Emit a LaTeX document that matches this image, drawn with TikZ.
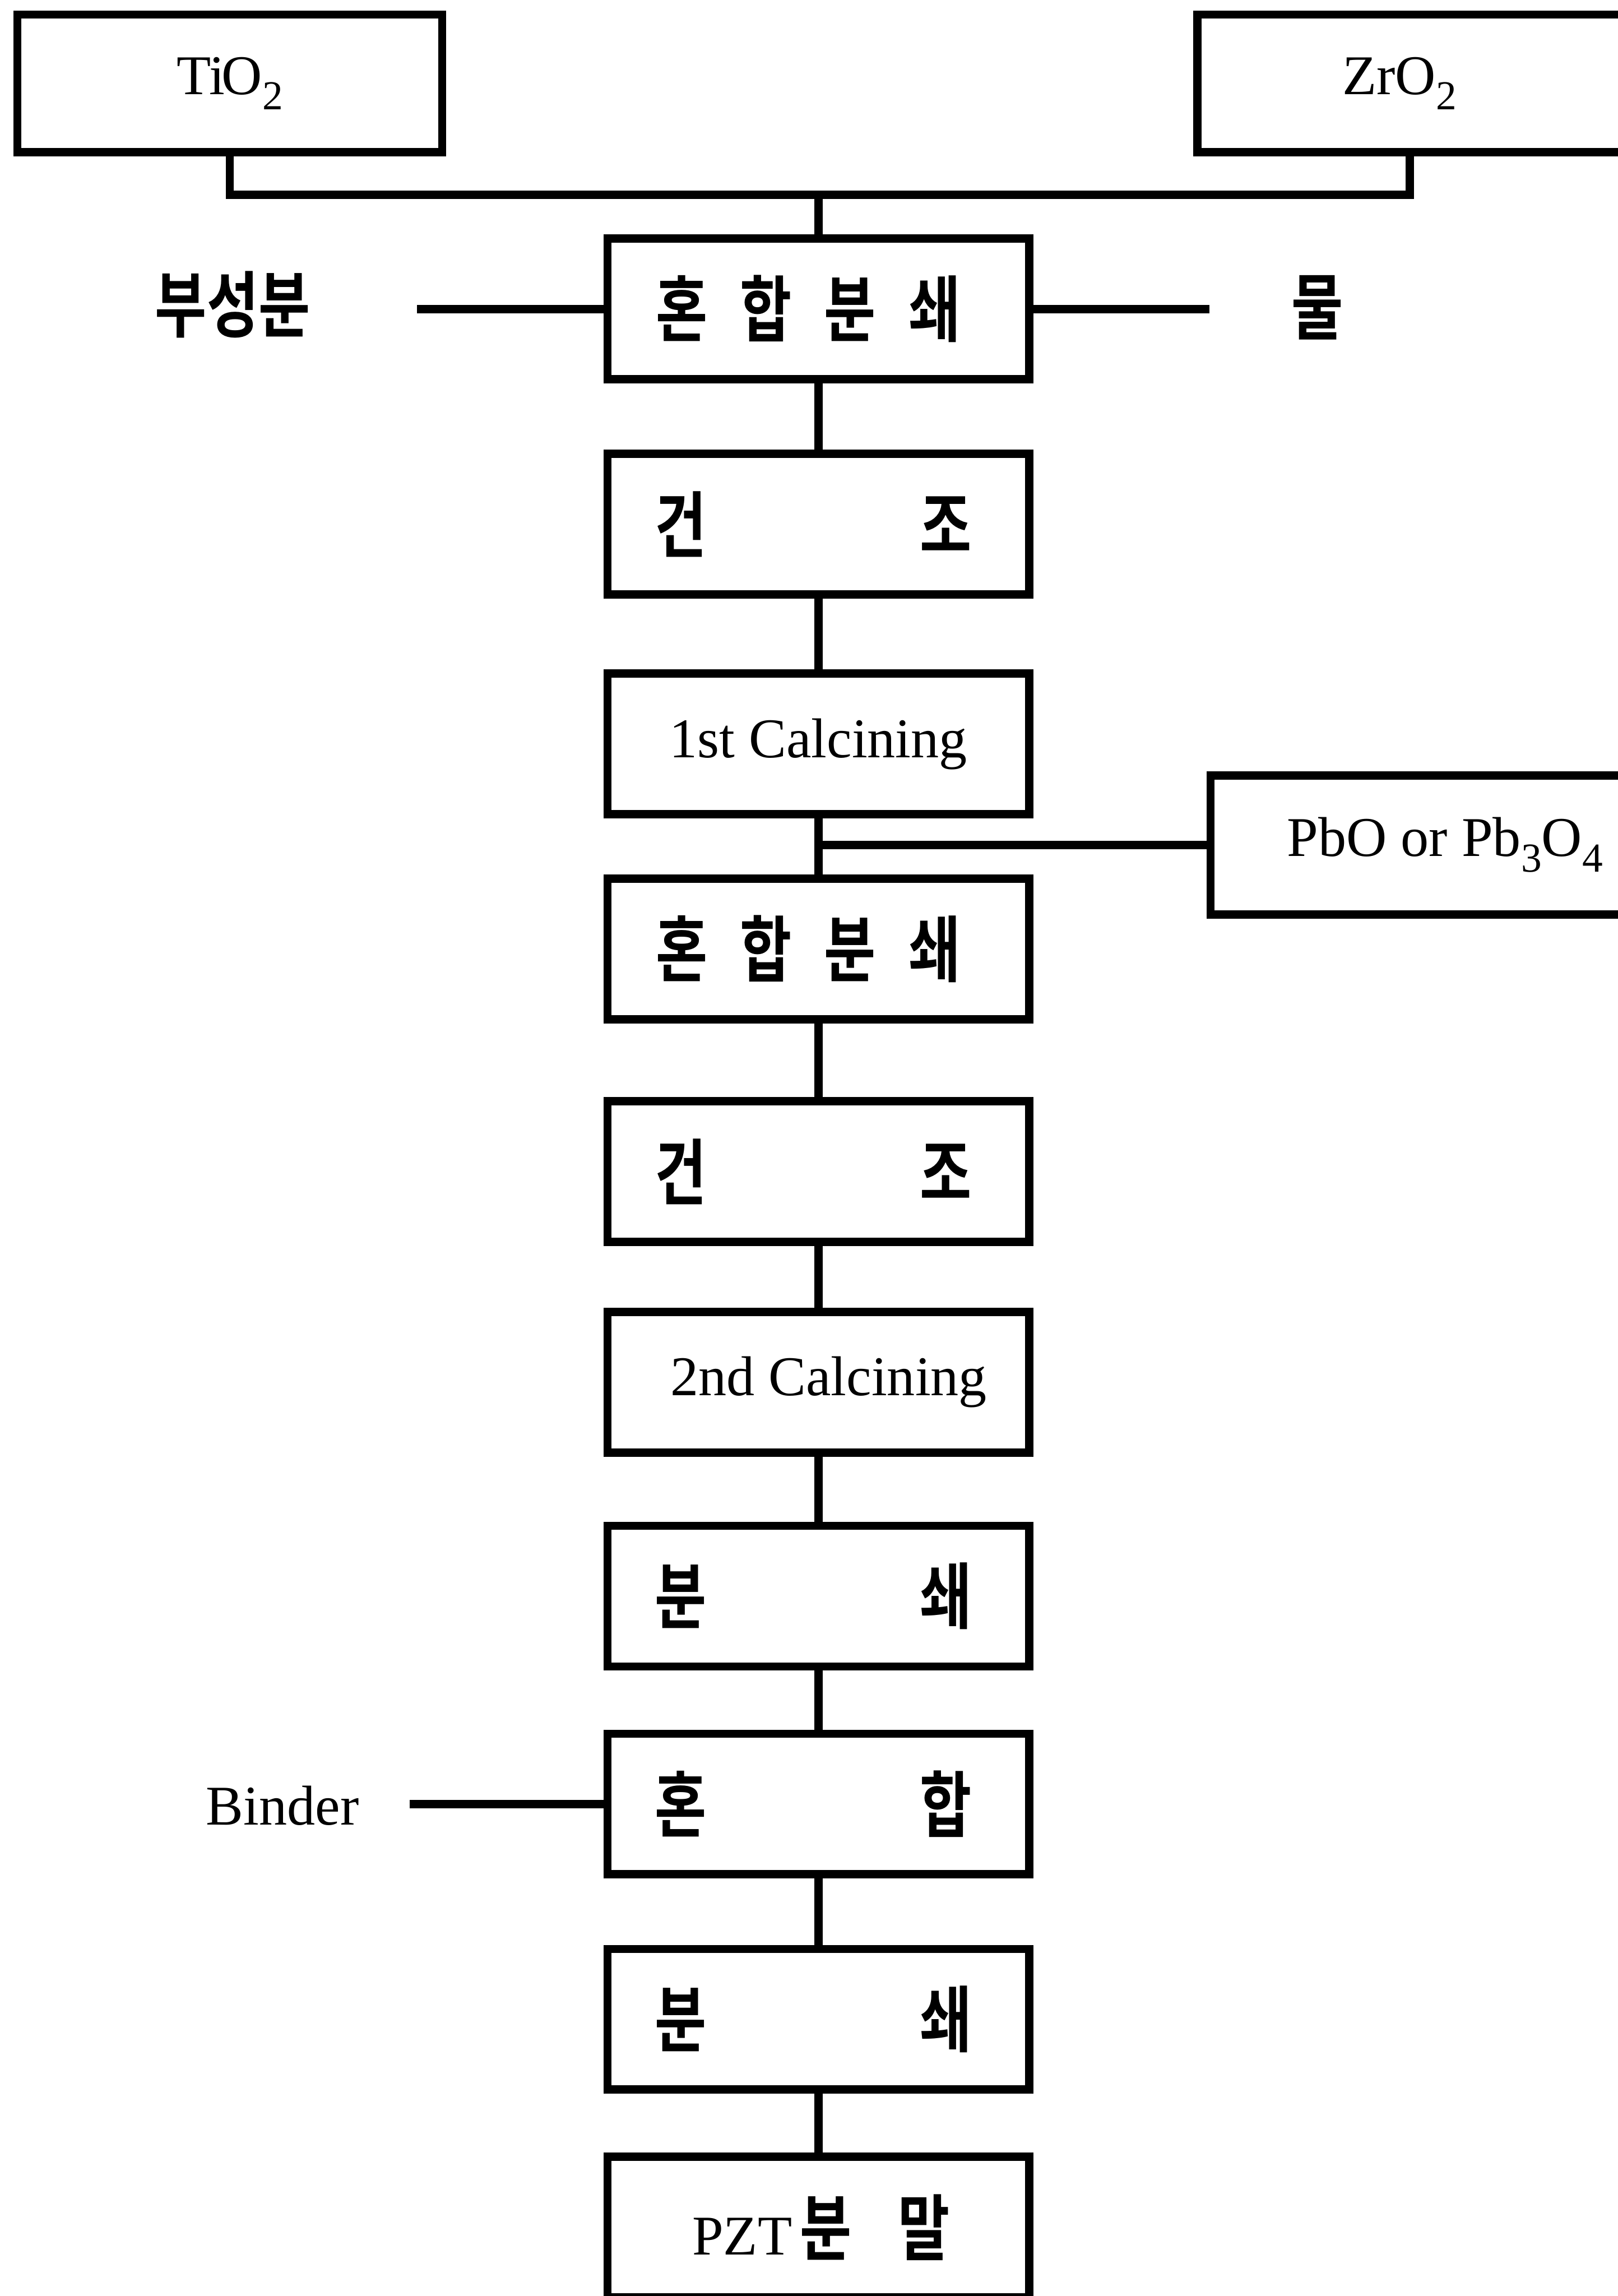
\documentclass[tikz,border=0pt]{standalone}
\usepackage{fontspec}
\setmainfont{Liberation Serif}
\newfontfamily\kr{Noto Sans CJK KR Bold}
\usetikzlibrary{positioning,calc}
\newcommand\hg[1]{\scalebox{0.78}[1]{\fontsize{14}{16}\kr #1}}
\newcommand\chemsub[1]{\raisebox{-.6ex}{\footnotesize #1}}
\newcommand\ktwo[2]{\makebox[2.16cm][s]{\hg{#1}\hfill\hg{#2}}}
\newcommand\kfour[4]{\makebox[2.08cm][s]{\hg{#1}\hfill\hg{#2}\hfill\hg{#3}\hfill\hg{#4}}}
\tikzset{
  stepbox/.style = {draw, line width=1.6pt, minimum width=2.88cm,
                    minimum height=0.96cm, inner sep=0pt,
                    font=\fontsize{10.9}{12}\selectfont},
  rawbox/.style  = {stepbox, minimum width=2.9cm, minimum height=0.94cm},
  lbl/.style     = {inner sep=0pt, font=\fontsize{10.9}{12}\selectfont},
  link/.style    = {line width=1.6pt}
}
\begin{document}
\begin{tikzpicture}[x=0.01cm, y=-0.01cm]
  \useasboundingbox (0,0) rectangle (1105,1568);

  \node[rawbox] (ti) at (157,57) {Ti\kern-.05em O\chemsub{2}};
  \node[rawbox] (zr) at (963,57) {\hspace{-4pt}ZrO\chemsub{2}};

  \foreach \yc/\txt [count=\i] in {
    211/{\hspace{-4pt}\kfour{혼}{합}{분}{쇄}},
    358/{\hspace{-2pt}\ktwo{건}{조}},
    508/{1st Calcining},
    648/{\hspace{-4pt}\kfour{혼}{합}{분}{쇄}},
    800/{\hspace{-2pt}\ktwo{건}{조}},
    944/{\hspace{4pt}2nd Calcining},
    1090/{\hspace{-2pt}\ktwo{분}{쇄}},
    1232/{\hspace{-2pt}\ktwo{혼}{합}},
    1379/{\hspace{-2pt}\ktwo{분}{쇄}},
    1521/{\hspace{1pt}PZT\hspace{1.5pt}\hg{분}\hspace{9pt}\hg{말}}
  }{
    \node[stepbox] (s\i) at (559,\yc) {\txt};
  }
  \foreach \i [evaluate=\i as \j using int(\i+1)] in {1,...,9}{
    \draw[link] (s\i.south) -- (s\j.north);
  }

  % side inputs
  \node[rawbox, minimum width=3.2cm, minimum height=0.95cm] (pbo) at (987,577)
    {PbO or Pb\chemsub{3}O\chemsub{4}};
  \draw[link] (pbo.west) -- (pbo.west -| s3.south);

  \coordinate (jt) at (559,133);
  \draw[link] (ti.south) |- (jt) -| (zr.south);
  \draw[link] (jt) -- (s1.north);

  \node[lbl] (bsb) at (159,208) {\hg{부}\hg{성}\hg{분}};
  \coordinate (bsbe) at (285,211);
  \draw[link] (bsbe) -- (s1.west);

  \node[lbl] (mul) at (900,210) {\hg{물}};
  \coordinate (mulw) at (826,211);
  \draw[link] (s1.east) -- (mulw);

  \node[lbl] (bnd) at (193,1233) {Binder};
  \coordinate (bnde) at (280,1232);
  \draw[link] (bnde) -- (s8.west);
\end{tikzpicture}
\end{document}
